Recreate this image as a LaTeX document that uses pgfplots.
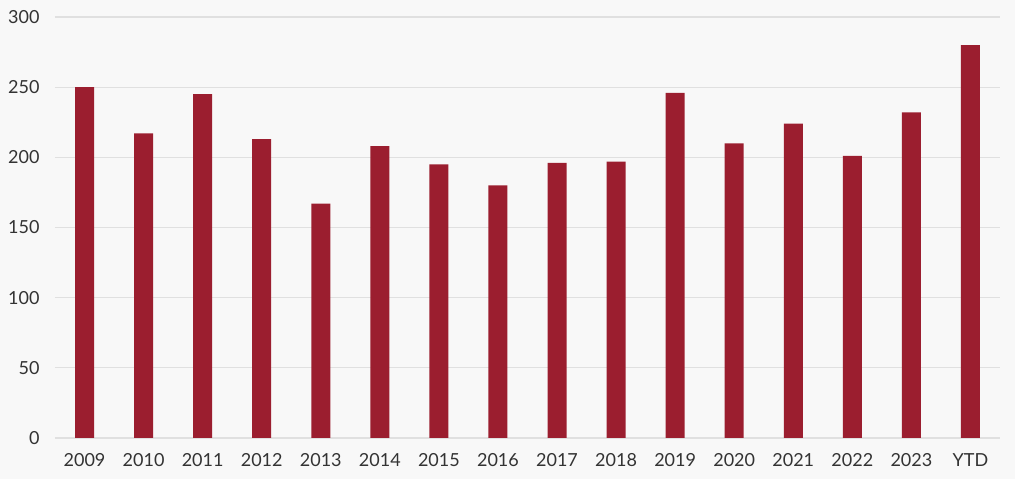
\documentclass[border=0pt]{standalone}
\usepackage{fontspec}
\setmainfont{Lato}
\usepackage{pgfplots}
\pgfplotsset{compat=1.18}
\definecolor{bg}{HTML}{F8F8F8}
\definecolor{barc}{HTML}{9B1E2F}
\definecolor{gridc}{HTML}{E0E0E0}
\definecolor{txt}{HTML}{333333}
\begin{document}
\begin{tikzpicture}[x=1pt,y=1pt]
\fill[bg] (0,0) rectangle (1015,479);
\begin{axis}[
  at={(55pt,41pt)}, anchor=south west,
  scale only axis, width=945pt, height=421pt,
  xmin=-0.5, xmax=15.5, ymin=0, ymax=300,
  axis line style={draw=none},
  ytick={0,50,...,300},
  xtick={0,...,15},
  xticklabels={2009,2010,2011,2012,2013,2014,2015,2016,2017,2018,2019,2020,2021,2022,2023,YTD},
  major tick length=0pt,
  ymajorgrids, grid style={gridc, line width=1.2pt},
  tick label style={font=\fontsize{18}{21}\selectfont, text=txt},
  yticklabel style={xshift=-12pt},
  xticklabel style={yshift=-12pt},
  /pgf/number format/assume math mode=true,
  axis on top=false,
]
\addplot[ybar, bar width=19pt, fill=barc, draw=none] coordinates {
(0,250) (1,217) (2,245) (3,213) (4,167) (5,208) (6,195) (7,180)
(8,196) (9,197) (10,246) (11,210) (12,224) (13,201) (14,232) (15,280)};
\end{axis}
\end{tikzpicture}
\end{document}
